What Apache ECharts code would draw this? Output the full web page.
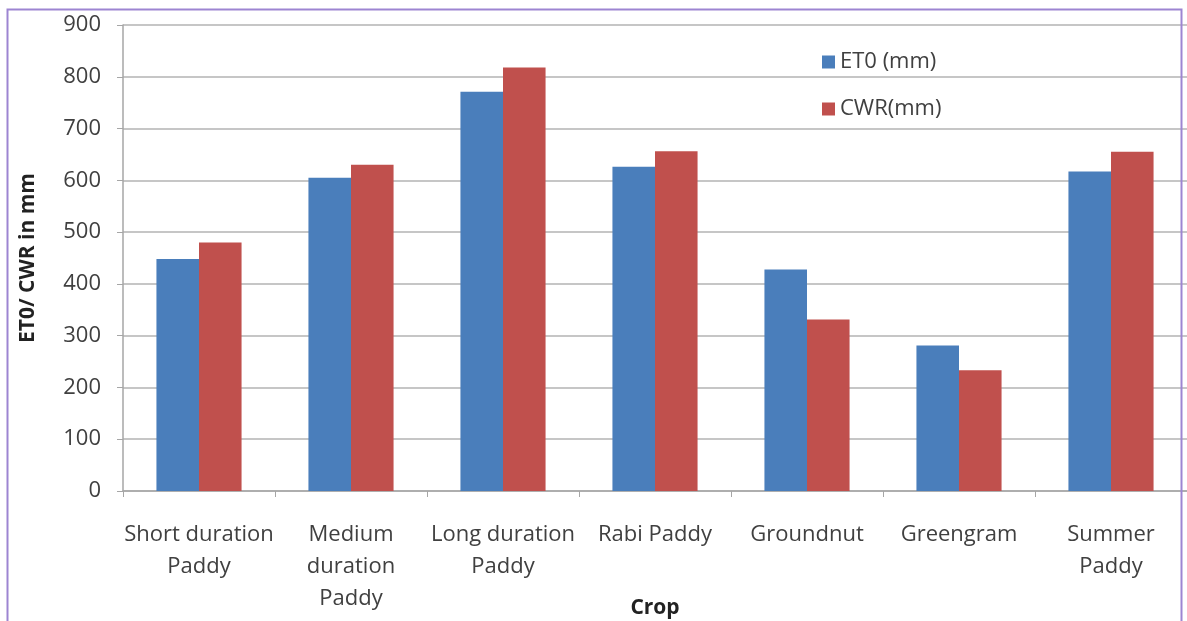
<!DOCTYPE html>
<html>
<head>
<meta charset="utf-8">
<script src="https://cdn.jsdelivr.net/npm/echarts@6/dist/echarts.min.js"></script>
<style>
  html, body { margin: 0; padding: 0; background: #ffffff; }
  #chart { width: 1187px; height: 621px; }
</style>
</head>
<body>
<div id="chart"></div>
<script>
// Crops on the category axis (line breaks as printed under each group)
const crops = [
  'Short duration\nPaddy',
  'Medium\nduration\nPaddy',
  'Long duration\nPaddy',
  'Rabi Paddy',
  'Groundnut',
  'Greengram',
  'Summer\nPaddy'
];

// Reference evapotranspiration per crop season (mm)
const et0 = [448, 605, 771, 626, 428, 281, 617];

// Crop water requirement per crop season (mm)
const cwr = [480, 630, 818, 656, 331, 233, 655];

const seriesNames = ['ET0 (mm)', 'CWR(mm)'];

const FONT = 'Open Sans, sans-serif';

const chart = echarts.init(document.getElementById('chart'), null, { renderer: 'canvas' });

chart.setOption({
  backgroundColor: '#ffffff',
  animation: false,
  textStyle: { fontFamily: FONT },
  grid: {
    left: 123, top: 25, right: 0, bottom: 130,
    containLabel: false,
    outerBoundsMode: 'none'
  },
  legend: {
    orient: 'vertical',
    left: 822,
    top: 51,
    padding: 0,
    itemWidth: 13,
    itemHeight: 13,
    itemGap: 25,
    icon: 'rect',
    textStyle: { fontFamily: FONT, fontSize: 22, color: '#404040', padding: [0, 0, 0, 0] },
    data: seriesNames
  },
  xAxis: {
    type: 'category',
    data: crops,
    name: 'Crop',
    nameLocation: 'middle',
    nameGap: 117,
    nameMoveOverlap: false,
    nameTextStyle: {
      fontFamily: FONT, fontSize: 21, fontWeight: 'bold', color: '#222',
      verticalAlign: 'middle'
    },
    axisLine: { lineStyle: { color: '#a6a6a6', width: 1.5 } },
    axisTick: { show: true, length: 6, lineStyle: { color: '#a6a6a6' } },
    axisLabel: {
      fontFamily: FONT, fontSize: 22, color: '#404040',
      margin: 28, lineHeight: 32, interval: 0
    },
    splitLine: { show: false }
  },
  yAxis: {
    type: 'value',
    min: 0,
    max: 900,
    interval: 100,
    name: 'ET0/ CWR in mm',
    nameLocation: 'middle',
    nameGap: 95,
    nameRotate: 90,
    nameMoveOverlap: false,
    nameTextStyle: {
      fontFamily: FONT, fontSize: 21, fontWeight: 'bold', color: '#222',
      verticalAlign: 'middle'
    },
    axisLine: { show: true, lineStyle: { color: '#a6a6a6', width: 1.5 } },
    axisTick: { show: true, inside: false, length: 6, lineStyle: { color: '#a6a6a6' } },
    axisLabel: { fontFamily: FONT, fontSize: 22, color: '#404040', margin: 22 },
    splitLine: { show: true, lineStyle: { color: '#b3b3b3', width: 1.5 } }
  },
  series: [
    {
      name: seriesNames[0],
      type: 'bar',
      data: et0,
      barGap: '0%',
      barCategoryGap: '44%',
      itemStyle: { color: '#4a7ebb' }
    },
    {
      name: seriesNames[1],
      type: 'bar',
      data: cwr,
      barGap: '0%',
      barCategoryGap: '44%',
      itemStyle: { color: '#c0504d' }
    }
  ],
  graphic: [
    {
      type: 'rect',
      silent: true,
      z: 100,
      shape: { x: 7.5, y: 9.5, width: 1174, height: 640 },
      style: { fill: 'none', stroke: '#9d85d2', lineWidth: 2 }
    }
  ]
});
</script>
</body>
</html>
